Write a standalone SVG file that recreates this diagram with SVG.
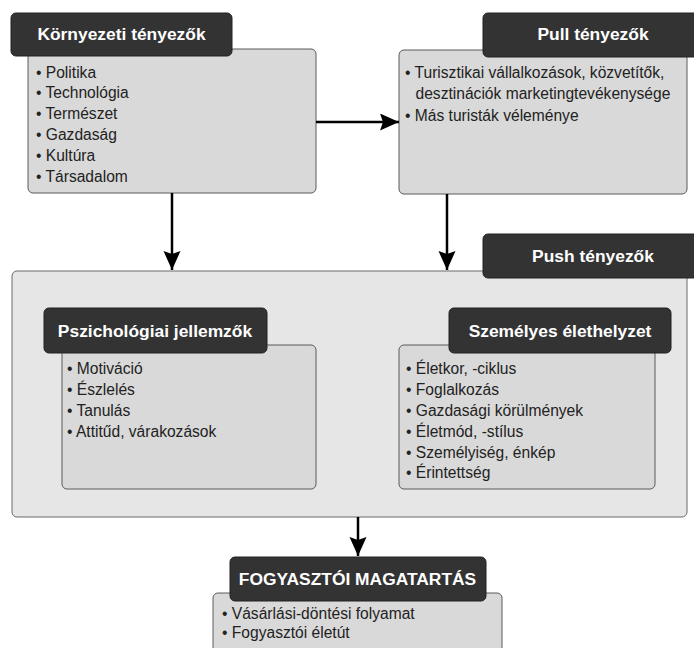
<svg xmlns="http://www.w3.org/2000/svg" width="694" height="648" viewBox="0 0 694 648">
<style>
.hdr{fill:#333333;stroke:#222222;stroke-width:1}
.body{fill:#d9d9d9;stroke:#5a5a5a;stroke-width:1}
.outer{fill:#e6e6e6;stroke:#6a6a6a;stroke-width:1}
.ht{font-family:"Liberation Sans",Arial,sans-serif;font-weight:bold;font-size:17.4px;fill:#ffffff;text-anchor:middle}
.bt{font-family:"Liberation Sans",Arial,sans-serif;font-size:15.6px;fill:#222222}
.conn{stroke:#000000;stroke-width:2.5;fill:none}
</style>
<defs>
<marker id="ah" markerUnits="userSpaceOnUse" markerWidth="20" markerHeight="18" refX="19" refY="8.5" orient="auto">
<path d="M0,0 L19,8.5 L0,17 L3,8.5 Z" fill="#000000"/>
</marker>
</defs>
<rect width="694" height="648" fill="#ffffff"/>

<g id="push">
<rect class="outer" x="12" y="271" width="675" height="246" rx="5"/>
<rect class="hdr" x="483" y="234" width="220" height="44" rx="5"/>
<text class="ht" x="593" y="262">Push tényezők</text>
</g>

<g id="kornyezeti">
<rect class="body" x="28" y="49" width="288" height="144" rx="5"/>
<rect class="hdr" x="11" y="13" width="221" height="43" rx="5"/>
<text class="ht" x="121.5" y="40">Környezeti tényezők</text>
<text class="bt" x="36" y="77.5">• Politika</text>
<text class="bt" x="36" y="98.3">• Technológia</text>
<text class="bt" x="36" y="119">• Természet</text>
<text class="bt" x="36" y="140">• Gazdaság</text>
<text class="bt" x="36" y="161">• Kultúra</text>
<text class="bt" x="36" y="181.5">• Társadalom</text>
</g>

<g id="pull">
<rect class="body" x="399" y="50" width="288" height="144" rx="5"/>
<rect class="hdr" x="483" y="13" width="220" height="44" rx="5"/>
<text class="ht" x="593" y="40">Pull tényezők</text>
<text class="bt" x="405" y="77.5">• Turisztikai vállalkozások, közvetítők,</text>
<text class="bt" x="415.5" y="99">desztinációk marketingtevékenysége</text>
<text class="bt" x="405" y="120.5">• Más turisták véleménye</text>
</g>

<g id="pszichologiai">
<rect class="body" x="62" y="345" width="254" height="144" rx="5"/>
<rect class="hdr" x="44" y="308" width="223" height="45" rx="5"/>
<text class="ht" x="155" y="337">Pszichológiai jellemzők</text>
<text class="bt" x="67" y="374">• Motiváció</text>
<text class="bt" x="67" y="395">• Észlelés</text>
<text class="bt" x="67" y="416">• Tanulás</text>
<text class="bt" x="67" y="437">• Attitűd, várakozások</text>
</g>

<g id="szemelyes">
<rect class="body" x="399" y="345" width="256" height="144" rx="5"/>
<rect class="hdr" x="449" y="308" width="222" height="45" rx="5"/>
<text class="ht" x="560" y="337">Személyes élethelyzet</text>
<text class="bt" x="406" y="374">• Életkor, -ciklus</text>
<text class="bt" x="406" y="395">• Foglalkozás</text>
<text class="bt" x="406" y="416">• Gazdasági körülmények</text>
<text class="bt" x="406" y="437">• Életmód, -stílus</text>
<text class="bt" x="406" y="457.5">• Személyiség, énkép</text>
<text class="bt" x="406" y="478">• Érintettség</text>
</g>

<g id="fogyasztoi">
<rect class="body" x="213" y="593" width="289" height="80" rx="5"/>
<rect class="hdr" x="230" y="557" width="256" height="44" rx="5"/>
<text class="ht" x="357.5" y="585">FOGYASZTÓI MAGATARTÁS</text>
<text class="bt" x="222" y="619">• Vásárlási-döntési folyamat</text>
<text class="bt" x="222" y="638">• Fogyasztói életút</text>
</g>

<g id="connectors">
<line class="conn" x1="316" y1="122" x2="399" y2="122" marker-end="url(#ah)"/>
<line class="conn" x1="172" y1="193" x2="172" y2="270" marker-end="url(#ah)"/>
<line class="conn" x1="447" y1="194" x2="447" y2="270" marker-end="url(#ah)"/>
<line class="conn" x1="358" y1="517" x2="358" y2="556" marker-end="url(#ah)"/>
</g>
</svg>
